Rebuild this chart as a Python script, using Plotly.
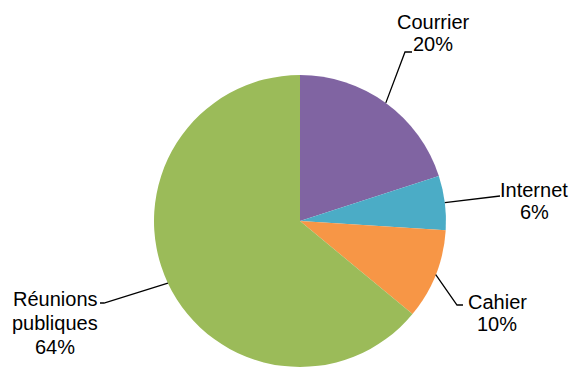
import math
import plotly.graph_objects as go

categories = ["Courrier", "Internet", "Cahier", "Réunions<br>publiques"]
label_names = [["Courrier"], ["Internet"], ["Cahier"], ["Réunions", "publiques"]]
values = [20, 6, 10, 64]
colors = ["#8064A2", "#4BACC6", "#F79646", "#9BBB59"]

W, H = 570, 367
CX, CY, R = 300, 221, 146

fig = go.Figure(go.Pie(
    labels=categories, values=values, sort=False, direction="clockwise", rotation=0,
    marker=dict(colors=colors, line=dict(width=0)), textinfo="none", hoverinfo="label+percent",
    domain=dict(x=[(CX - R) / W, (CX + R) / W], y=[0, (H - (CY - R)) / H]),
    showlegend=False,
))

def px(x):
    return x / W

def py(y):
    return 1 - y / H

# label layout: elbow point, end point, text center x, first-line center y
layout_info = [
    dict(elbow=(405, 52), end=(412, 52), tx=433, ty=22, lh=22),
    dict(elbow=(500, 196), end=(500, 196), tx=534, ty=190, lh=22),
    dict(elbow=(457, 305), end=(463, 305), tx=497, ty=302, lh=22),
    dict(elbow=(104, 303), end=(100, 303), tx=55, ty=299, lh=24),
]

total = sum(values)
cum = 0
shapes = []
annotations = []
font = dict(family="Liberation Sans, Arial, sans-serif", size=20, color="#000000")
for i, v in enumerate(values):
    mid = (cum + v / 2) / total * 2 * math.pi
    cum += v
    ex = CX + R * math.sin(mid)
    ey = CY - R * math.cos(mid)
    info = layout_info[i]
    pts = [(ex, ey), info["elbow"], info["end"]]
    path = "M " + " L ".join(f"{px(x):.5f},{py(y):.5f}" for x, y in pts)
    shapes.append(dict(type="path", xref="paper", yref="paper", path=path,
                       line=dict(color="#000000", width=1.3)))
    lines = label_names[i] + [f"{round(v / total * 100)}%"]
    for j, t in enumerate(lines):
        annotations.append(dict(text=t, x=px(info["tx"]), y=py(info["ty"] + j * info["lh"]),
                                xref="paper", yref="paper", showarrow=False,
                                xanchor="center", yanchor="middle", font=font))

fig.update_layout(
    width=W, height=H, margin=dict(l=0, r=0, t=0, b=0),
    paper_bgcolor="white", plot_bgcolor="white",
    shapes=shapes, annotations=annotations,
)
fig.write_html("out.html", config={"displayModeBar": False},
               post_script="document.body.style.margin='0';document.body.style.overflow='hidden';")
